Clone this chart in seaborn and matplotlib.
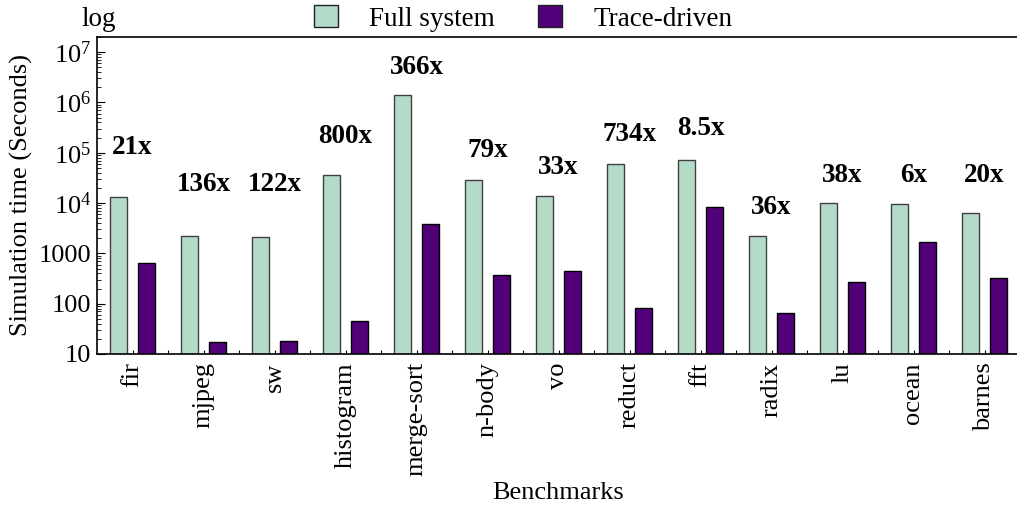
import matplotlib
matplotlib.use("Agg")
import matplotlib.pyplot as plt
import seaborn as sns
import pandas as pd
import numpy as np
from matplotlib.ticker import LogLocator, FixedLocator, NullFormatter, FuncFormatter

benchmarks = ["fir", "mjpeg", "sw", "histogram", "merge-sort", "n-body", "vo",
              "reduct", "fft", "radix", "lu", "ocean", "barnes"]
full_system = [13200, 2200, 2100, 36000, 1400000, 29000, 13800, 60000, 72000,
               2200, 10000, 9800, 6300]
trace_driven = [650, 17, 18, 45, 3800, 370, 445, 82, 8300, 66, 270, 1700, 325]
speedup_labels = ["21x", "136x", "122x", "800x", "366x", "79x", "33x", "734x",
                  "8.5x", "36x", "38x", "6x", "20x"]
label_heights = [1.3e5, 2.3e4, 2.3e4, 2.1e5, 4.9e6, 1.1e5, 5.2e4, 2.35e5,
                 3.1e5, 8.0e3, 3.6e4, 3.6e4, 3.6e4]
series_names = ["Full system", "Trace-driven"]
colors = ["#b3dbc8", "#52007a"]

df = pd.DataFrame({
    "Benchmark": benchmarks * 2,
    "Series": [series_names[0]] * len(benchmarks) + [series_names[1]] * len(benchmarks),
    "Time": full_system + trace_driven,
})

sns.set_theme(style="ticks")
plt.rcParams["font.family"] = ["Liberation Serif", "DejaVu Serif"]
plt.rcParams["mathtext.fontset"] = "custom"
plt.rcParams["mathtext.rm"] = "Liberation Serif"
plt.rcParams["mathtext.it"] = "Liberation Serif:italic"
for k in ["text.color", "axes.labelcolor", "xtick.color", "ytick.color", "axes.edgecolor"]:
    plt.rcParams[k] = "black"

fig = plt.figure(figsize=(10.17, 5.05), dpi=100)
ax = fig.add_axes([97 / 1017, 151 / 505, 923 / 1017, 317 / 505])

sns.barplot(data=df, x="Benchmark", y="Time", hue="Series", palette=colors,
            order=benchmarks, hue_order=series_names, gap=0.4, width=0.8,
            saturation=1, ax=ax, log_scale=(False, True), legend=True)

for cont, ec in zip(ax.containers, ["#404040", "#000000"]):
    for bar in cont:
        bar.set_edgecolor(ec)
        bar.set_linewidth(1.0)

ax.set_yscale("log")
ax.set_ylim(10, 2.0e7)
ax.set_xlim(-0.5, len(benchmarks) - 0.5)

def fmt(v, pos):
    e = int(round(np.log10(v)))
    if e <= 3:
        return str(int(round(v)))
    return r"$10^{%d}$" % e

ax.yaxis.set_major_locator(LogLocator(base=10, numticks=10))
ax.yaxis.set_major_formatter(FuncFormatter(fmt))
ax.yaxis.set_minor_locator(LogLocator(base=10, subs=np.arange(2, 10), numticks=20))
ax.yaxis.set_minor_formatter(NullFormatter())

ax.xaxis.set_minor_locator(FixedLocator(np.arange(0.5, len(benchmarks) - 0.5, 1.0)))
ax.tick_params(axis="both", which="both", direction="in", labelsize=19, colors="black",
               bottom=True, left=True, top=False, right=False)
ax.tick_params(axis="y", which="major", length=6, width=0.8, pad=4)
ax.tick_params(axis="y", which="minor", length=3, width=0.6)
ax.tick_params(axis="x", which="major", length=3, width=0.8, labelrotation=90, pad=6)
ax.tick_params(axis="x", which="minor", length=3, width=0.8)

for s in ax.spines.values():
    s.set_visible(True)
    s.set_color("black")
    s.set_linewidth(1.2)

ax.set_xlabel("Benchmarks", fontsize=19, labelpad=4)
ax.set_ylabel("Simulation time (Seconds)", fontsize=19, labelpad=4)

for i, (lab, h) in enumerate(zip(speedup_labels, label_heights)):
    ax.text(i, h, lab, ha="center", va="center", fontsize=19.5, fontweight="bold",
            color="black")

handles, labels = ax.get_legend_handles_labels()
for h in handles:
    h.set_edgecolor("#202020")
    h.set_linewidth(1.0)
ax.legend(handles, labels, loc="lower left", bbox_to_anchor=(212 / 923, 1.0),
          ncol=2, frameon=False, fontsize=19.5, handlelength=0.88, handleheight=0.88,
          columnspacing=1.6, handletextpad=1.15, borderaxespad=0.0, borderpad=0.2)
fig.text(99 / 1017, 1 - 19 / 505, "log", fontsize=19.5, ha="center", va="center")

fig.savefig("out.png", dpi=100)
